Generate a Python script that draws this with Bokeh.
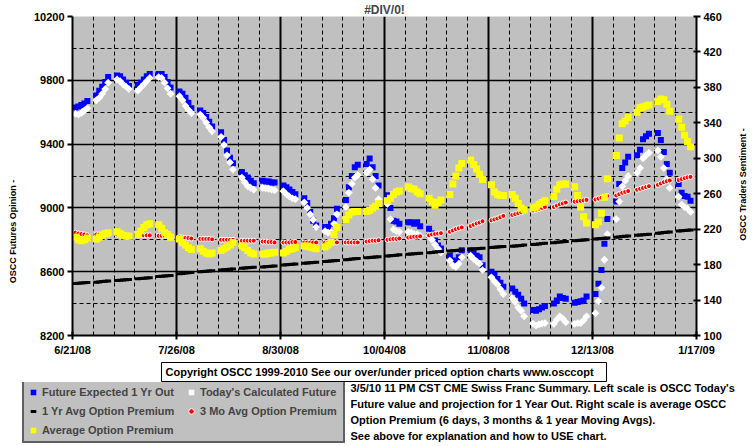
import math
from bokeh.plotting import figure
from bokeh.layouts import column, row
from bokeh.models import (Range1d, LinearAxis, FixedTicker, Label, Legend,
                          LegendItem, ColumnDataSource, Spacer)
from bokeh.embed import file_html
from bokeh.resources import INLINE

# ---------------- data ----------------
tick_days = [0, 35, 70, 105, 140, 175, 210]
tick_labels = ["6/21/08", "7/26/08", "8/30/08", "10/04/08", "11/08/08", "12/13/08", "1/17/09"]
n_weeks = 30
day = [7 * w + d for w in range(n_weeks) for d in range(1, 6)]

future_1yr = [
    9630, 9635, 9645, 9655, 9670,  9705, 9735, 9760, 9790, 9820,
    9830, 9825, 9805, 9785, 9765,  9770, 9785, 9805, 9825, 9840,
    9840, 9840, 9820, 9790, 9755,  9730, 9715, 9690, 9660, 9625,
    9610, 9595, 9570, 9540, 9510,  9475, 9425, 9360, 9315, 9280,
    9225, 9205, 9190, 9170, 9155,  9170, 9165, 9165, 9160, 9160,
    9140, 9130, 9115, 9100, 9085,  9060, 9030, 8975, 8920, 8890,
    8880, 8880, 8900, 8935, 8995,  9050, 9130, 9200, 9255, 9270,
    9275, 9310, 9255, 9200, 9140,  9080, 9000, 8920, 8915, 8900,
    8910, 8910, 8900, 8910, 8885,  8870, 8840, 8795, 8765, 8745,
    8700, 8670, 8660, 8690, 8735,  8735, 8715, 8700, 8690, 8640,
    8600, 8580, 8555, 8530, 8505,  8495, 8475, 8455, 8430, 8400,
    8360, 8355, 8365, 8375, 8385,  8400, 8420, 8445, 8435, 8430,
    8405, 8410, 8415, 8420, 8445,  8460, 8525, 8610, 8775, 8930,
    9040, 9150, 9250, 9285, 9320,  9330, 9365, 9430, 9450, 9465,
    9470, 9425, 9350, 9275, 9220,  9150, 9095, 9075, 9070, 9045,
]

today_calc = [
    9590, 9585, 9595, 9610, 9625,  9675, 9690, 9715, 9745, 9785,
    9805, 9795, 9775, 9760, 9745,  9735, 9755, 9775, 9795, 9815,
    9820, 9815, 9785, 9750, 9715,  9700, 9675, 9640, 9615, 9595,
    9585, 9565, 9535, 9505, 9480,  9445, 9395, 9330, 9285, 9240,
    9190, 9160, 9135, 9125, 9115,  9125, 9122, 9120, 9115, 9110,
    9105, 9085, 9070, 9060, 9055,  9035, 9000, 8960, 8925, 8880,
    8855, 8845, 8848, 8900, 8960,  9005, 9095, 9150, 9190, 9205,
    9220, 9240, 9180, 9125, 9055,  9025, 8930, 8865, 8855, 8850,
    8850, 8845, 8835, 8835, 8825,  8825, 8800, 8770, 8745, 8720,
    8670, 8640, 8630, 8650, 8690,  8700, 8680, 8665, 8650, 8610,
    8565, 8540, 8520, 8490, 8460,  8435, 8410, 8375, 8355, 8320,
    8275, 8262, 8270, 8275, 8278,  8273, 8300, 8320, 8305, 8283,
    8273, 8277, 8278, 8295, 8320,  8340, 8415, 8500, 8675, 8835,
    8930, 9040, 9135, 9170, 9200,  9220, 9250, 9310, 9330, 9345,
    9360, 9320, 9250, 9180, 9125,  9070, 9020, 9005, 8995, 8975,
]

one_yr_avg = [
    158.6, 158.9, 159.2, 159.5, 159.8,  160.2, 160.5, 160.8, 161.1, 161.4,
    162.0, 162.3, 162.6, 162.9, 163.2,  164.0, 164.3, 164.6, 164.9, 165.2,
    166.5, 166.8, 167.1, 167.4, 167.7,  169.8, 170.1, 170.4, 170.7, 171.0,
    172.0, 172.3, 172.6, 172.9, 173.2,  173.8, 174.1, 174.4, 174.7, 175.0,
    175.8, 176.1, 176.4, 176.7, 177.0,  177.2, 177.5, 177.8, 178.1, 178.4,
    179.5, 179.8, 180.1, 180.4, 180.7,  181.5, 181.8, 182.1, 182.4, 182.7,
    183.5, 183.8, 184.1, 184.4, 184.7,  185.6, 185.9, 186.2, 186.5, 186.8,
    187.8, 188.1, 188.4, 188.7, 189.0,  189.8, 190.1, 190.4, 190.7, 191.0,
    191.6, 191.9, 192.2, 192.5, 192.8,  193.5, 193.8, 194.1, 194.4, 194.7,
    195.4, 195.7, 196.0, 196.3, 196.6,  197.2, 197.5, 197.8, 198.1, 198.4,
    199.2, 199.5, 199.8, 200.1, 200.4,  200.8, 201.1, 201.4, 201.7, 202.0,
    202.8, 203.1, 203.4, 203.7, 204.0,  204.8, 205.1, 205.4, 205.7, 206.0,
    206.8, 207.1, 207.4, 207.7, 208.0,  208.8, 209.1, 209.4, 209.7, 210.0,
    211.0, 211.3, 211.6, 211.9, 212.2,  213.2, 213.5, 213.8, 214.1, 214.4,
    215.5, 215.8, 216.1, 216.4, 216.7,  217.8, 218.1, 218.4, 218.7, 219.0,
]

three_mo_avg = [
    216, 215, 214.5, 214, 213,  214, 214, 214, 214, 214,
    214, 213.5, 213, 213, 213,  213, 213, 213, 213, 213,
    212.5, 212.5, 212.5, 212.5, 212.5,  211, 210.5, 210, 210, 209.5,
    209, 209, 209, 209, 208.5,  208, 208, 208, 208, 208,
    207, 207, 207, 207, 207,  206, 206, 205.5, 205.5, 205,
    205, 205, 205, 205.5, 205.5,  205, 205, 205, 205, 205,
    205, 205, 205, 205, 205,  205, 205, 205, 205, 205,
    206, 206.5, 207, 207, 207.5,  208, 208.5, 209, 209, 209.5,
    210.5, 211, 211.5, 211.5, 212,  213, 214, 214.5, 215, 215.5,
    217, 218.5, 220, 221, 222,  223.5, 225, 226.5, 227.5, 229,
    230, 231, 232, 233.5, 235,  236, 237, 238, 239, 240,
    241, 242, 243, 244, 245,  245, 246.5, 248, 249, 250,
    251, 251.5, 252, 252.5, 253,  253.5, 254.5, 255.5, 256.5, 257.5,
    258, 259.5, 261, 262, 263,  264.5, 265.5, 266.5, 267.5, 268.5,
    270, 271.5, 273, 274, 275,  275.5, 276.5, 277.5, 278.5, 279,
]

avg_premium = [
    211, 208, 207, 208, 210,  209, 211, 213, 215, 216,
    217, 215, 213, 212, 212,  214, 218, 222, 225, 226,
    225, 221, 216, 214, 211,  209, 205, 202, 199, 197,
    198, 195, 193, 192, 193,  196, 198, 200, 202, 205,
    201, 199, 196, 193, 192,  192, 192, 193, 193, 194,
    193, 195, 197, 198, 199,  201, 201, 200, 199, 198,
    200, 202, 205, 214, 222,  231, 236, 239, 240, 240,
    240, 241, 244, 246, 249,  252, 255, 259, 262, 263,
    268, 266, 265, 262, 260,  255, 251, 247, 250, 253,
    259, 271, 280, 289, 294,  298, 293, 288, 282, 276,
    270, 262, 259, 258, 258,  259, 255, 249, 244, 242,
    244, 245, 248, 250, 252,  257, 265, 270, 271, 271,
    268, 258, 245, 234, 227,  225, 228, 238, 256, 277,
    303, 323, 339, 342, 346,  352, 357, 358, 359, 360,
    364, 367, 366, 361, 353,  344, 335, 326, 319, 313,
]

left_ticks = [8200, 8600, 9000, 9400, 9800, 10200]
right_ticks = [100, 140, 180, 220, 260, 300, 340, 380, 420, 460]

title_text = "#DIV/0!"
left_title = "OSCC Futures Opinion -"
right_title = "OSCC Traders Sentiment -"
# the reference box shows the copyright line cut at its right edge
copyright_text = "Copyright OSCC 1999-2010 See our over/under priced option charts www.osccopt"
note_lines = [
    "3/5/10 11 PM CST CME Swiss Franc Summary. Left scale is OSCC Today's",
    "Future value and projection for 1 Year Out. Right scale is average OSCC",
    "Option Premium (6  days, 3 months & 1 year Moving  Avgs).",
    "See above for explanation and how to USE chart.",
]
series_names = ["Future Expected 1 Yr Out", "Today's Calculated Future",
                "1 Yr Avg Option Premium", "3 Mo Avg Option Premium",
                "Average Option Premium"]

FONT = "Liberation Sans"
TOP_H = 361


def no_align(fig):
    try:
        fig.frame_align = False
    except AttributeError:
        pass


def blank_fig(w, h, xr, yr, **kw):
    f = figure(width=w, height=h, output_backend="svg", toolbar_location=None,
               x_range=Range1d(*xr), y_range=Range1d(*yr),
               x_axis_type=None, y_axis_type=None, min_border=0,
               outline_line_color=None, background_fill_color="white",
               border_fill_color="white", **kw)
    f.grid.visible = False
    no_align(f)
    return f


# ---------------- main chart ----------------
p = figure(width=700, height=TOP_H, output_backend="svg", toolbar_location=None,
           x_range=Range1d(0, 210), y_range=Range1d(8200, 10200),
           min_border_left=48, min_border_right=28, min_border_top=15,
           min_border_bottom=TOP_H - 335, background_fill_color="#C0C0C0",
           border_fill_color="white", outline_line_color=None)
no_align(p)
p.extra_y_ranges = {"right": Range1d(100, 460)}

p.title.text = title_text
p.title.align = "center"
p.title.offset = -5
p.title.text_font = FONT
p.title.text_font_style = "bold"
p.title.text_font_size = "12px"
try:
    p.title.standoff = 0
except AttributeError:
    pass

weekly = [7 * i for i in range(31) if i % 5 != 0]
left_minor = [8400, 8800, 9200, 9600, 10000]

p.xgrid.ticker = FixedTicker(ticks=tick_days[1:-1], minor_ticks=weekly)
p.xgrid.grid_line_color = "black"
p.xgrid.grid_line_width = 2
p.xgrid.minor_grid_line_color = "black"
p.xgrid.minor_grid_line_dash = "4 3"
p.xgrid.minor_grid_line_width = 1

p.ygrid.ticker = FixedTicker(ticks=left_ticks[1:-1], minor_ticks=left_minor)
p.ygrid.grid_line_color = "black"
p.ygrid.grid_line_width = 1.5
p.ygrid.minor_grid_line_color = "black"
p.ygrid.minor_grid_line_dash = "4 3"
p.ygrid.minor_grid_line_width = 1

xa = p.xaxis[0]
xa.ticker = FixedTicker(ticks=tick_days, minor_ticks=weekly)
xa.major_label_overrides = {d: l for d, l in zip(tick_days, tick_labels)}
ya = p.yaxis[0]
ya.ticker = FixedTicker(ticks=left_ticks)
ra = LinearAxis(y_range_name="right", ticker=FixedTicker(ticks=right_ticks))
p.add_layout(ra, "right")

for ax in (xa, ya, ra):
    ax.axis_line_color = "black"
    ax.axis_line_width = 2
    ax.major_tick_line_color = "black"
    ax.major_tick_line_width = 2
    ax.major_label_text_font = FONT
    ax.major_label_text_font_style = "bold"
    ax.major_label_text_font_size = "11px"
    ax.major_label_text_color = "black"
xa.major_tick_in = 4
xa.major_tick_out = 4
xa.minor_tick_in = 3
xa.minor_tick_out = 0
xa.minor_tick_line_color = "black"
xa.major_label_standoff = 4
ya.major_tick_in = 0
ya.major_tick_out = 5
ya.minor_tick_line_color = None
ya.major_label_standoff = 3
ra.major_tick_in = 3
ra.major_tick_out = 4
ra.minor_tick_line_color = None
ra.major_label_standoff = 3

src = ColumnDataSource(dict(x=day, fe=future_1yr, tc=today_calc,
                            y1=one_yr_avg, m3=three_mo_avg, avg=avg_premium))
STY = {
    "fe": dict(marker="square", fill_color="#0000FF", line_color=None),
    "tc": dict(marker="square", angle=math.pi / 4, fill_color="white", line_color=None),
    "y1": dict(marker="dash", line_color="black", line_width=3),
    "m3": dict(marker="circle", fill_color="#FF0000", line_color="white", line_width=1),
    "avg": dict(marker="square", fill_color="#FFFF00", line_color=None),
}
SIZE = {"fe": 6, "tc": 5.5, "y1": 6, "m3": 5, "avg": 7}
RNG = {"fe": "default", "tc": "default", "y1": "right", "m3": "right", "avg": "right"}
for key in ["fe", "tc", "y1", "m3", "avg"]:
    p.scatter("x", key, source=src, size=SIZE[key], y_range_name=RNG[key], **STY[key])

# ---------------- side axis titles ----------------
p_l = blank_fig(24, TOP_H, (0, 24), (TOP_H, 0))
p_l.add_layout(Label(x=12, y=231, text=left_title, angle=math.pi / 2,
                     text_align="center", text_baseline="middle", text_font=FONT,
                     text_font_style="bold", text_font_size="9px", text_color="black"))
p_r = blank_fig(31, TOP_H, (724, 755), (TOP_H, 0))
p_r.add_layout(Label(x=742, y=184, text=right_title, angle=math.pi / 2,
                     text_align="center", text_baseline="middle", text_font=FONT,
                     text_font_style="bold", text_font_size="9px", text_color="black"))

# ---------------- copyright box ----------------
p_c = figure(width=447, height=21, output_backend="svg", toolbar_location=None,
             x_range=Range1d(0, 445), y_range=Range1d(0, 19),
             x_axis_type=None, y_axis_type=None, min_border=1,
             outline_line_color="black", outline_line_width=1,
             background_fill_color="white", border_fill_color="white")
p_c.grid.visible = False
no_align(p_c)
p_c.add_layout(Label(x=4, y=9.5, x_units="screen", y_units="screen", text=copyright_text,
                     text_align="left", text_baseline="middle", text_font=FONT,
                     text_font_style="bold", text_font_size="11px", text_color="black"))

# ---------------- legend + notes ----------------
pb = blank_fig(755, 446 - TOP_H - 21, (0, 755), (446, TOP_H + 21))
hidden = ColumnDataSource(dict(x=[-100], y=[-100]))
leg_r = {}
for key in ["fe", "tc", "y1", "m3", "avg"]:
    leg_r[key] = pb.scatter("x", "y", source=hidden, size=SIZE[key], **STY[key])

order = [("fe", 0), ("y1", 2), ("avg", 4), ("tc", 1), ("m3", 3)]
legend = Legend(
    items=[LegendItem(label=series_names[i], renderers=[leg_r[k]]) for k, i in order],
    location=(22, 3), ncols=2, padding=2, spacing=1, margin=0,
    glyph_width=14, glyph_height=18, label_height=18, label_width=141,
    label_standoff=2, label_text_font=FONT, label_text_font_style="bold",
    label_text_font_size="11px", background_fill_color="#C0C0C0",
    background_fill_alpha=1, border_line_color="black", border_line_width=2,
)
pb.add_layout(legend)

for yc, line in zip([387, 403, 419, 435], note_lines):
    pb.add_layout(Label(x=350, y=yc, text=line, text_align="left",
                        text_baseline="middle", text_font=FONT,
                        text_font_style="bold", text_font_size="11px",
                        text_color="black"))

layout = column(
    row(p_l, p, p_r, spacing=0),
    row(Spacer(width=160, height=21), p_c, Spacer(width=148, height=21), spacing=0),
    pb,
    spacing=0,
)
open("out.html", "w").write(file_html(layout, INLINE))
